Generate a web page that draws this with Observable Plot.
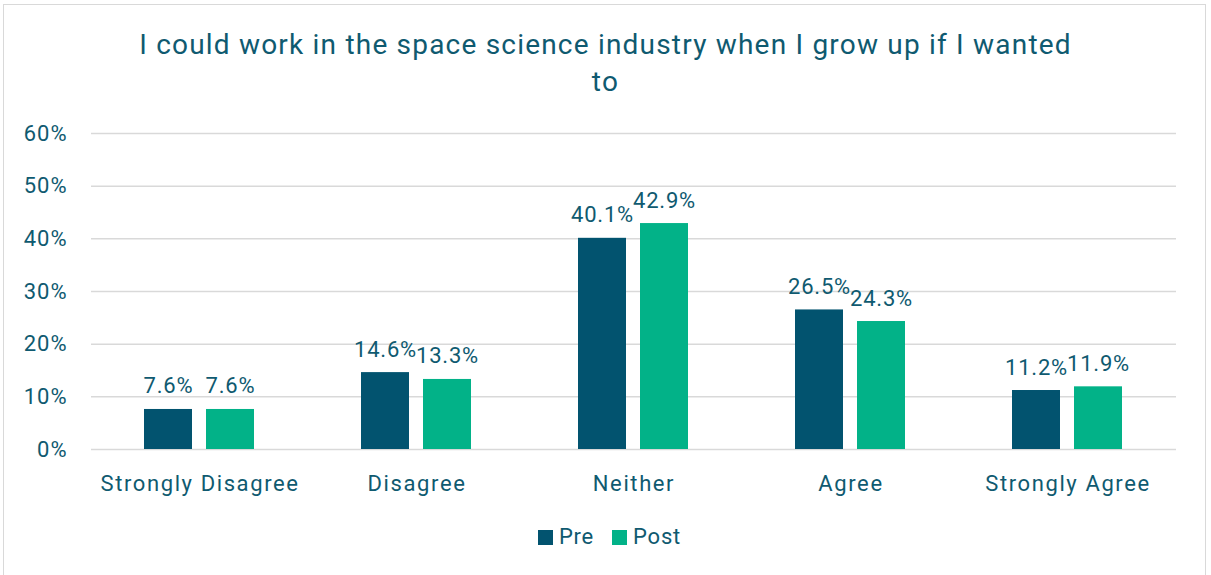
<!DOCTYPE html>
<html>
<head>
<meta charset="utf-8">
<script src="https://cdn.jsdelivr.net/npm/d3@7"></script>
<script src="https://cdn.jsdelivr.net/npm/@observablehq/plot@0.6"></script>
<style>
  html, body { margin: 0; padding: 0; background: #fff; }
  body { position: relative; width: 1211px; height: 575px; overflow: hidden; font-family: Roboto, "Noto Sans", sans-serif; color: #0f5a70; }
  #frame { position: absolute; left: 3px; top: 4px; width: 1201px; height: 600px; border: 1.5px solid #d9d9d9; }
  #title { position: absolute; left: 0; top: 26px; width: 1211px; text-align: center; font-size: 28px; line-height: 37px; letter-spacing: 1.2px; color: #0f5a70; }
  #chart { position: absolute; left: 0; top: 110px; }
  #legend { position: absolute; left: 0; top: 522px; width: 1219px; display: flex; justify-content: center; align-items: center; font-size: 22px; line-height: 30px; letter-spacing: 0.8px; color: #0f5a70; }
  .sw { display: inline-block; width: 15px; height: 15px; margin-right: 6px; }
  .item { display: flex; align-items: center; margin: 0 9px; }
  #chart [aria-label^="fx-axis"] text { letter-spacing: 1.6px; }
  #chart [aria-label^="y-axis"] text { letter-spacing: 1px; }
  #chart [aria-label="text"] text { letter-spacing: 0.8px; }
</style>
</head>
<body>
<div id="frame"></div>
<div id="title">I could work in the space science industry when I grow up if I wanted<br>to</div>
<div id="chart"></div>
<div id="legend"></div>
<script>
const categories = ["Strongly Disagree", "Disagree", "Neither", "Agree", "Strongly Agree"];
const series = ["Pre", "Post"];
const preValues = [7.6, 14.6, 40.1, 26.5, 11.2];
const postValues = [7.6, 13.3, 42.9, 24.3, 11.9];
const yTicks = [0, 10, 20, 30, 40, 50, 60];
const colors = ["#02536f", "#02b288"];
const textColor = "#0f5a70";

const data = [];
categories.forEach((c, i) => {
  data.push({category: c, series: "Pre", value: preValues[i]});
  data.push({category: c, series: "Post", value: postValues[i]});
});

const chart = Plot.plot({
  width: 1211,
  height: 394,
  marginLeft: 89,
  marginRight: 34,
  marginTop: 23,
  marginBottom: 55,
  style: {fontFamily: "Roboto, 'Noto Sans', sans-serif", fontSize: "22px", color: textColor, background: "transparent", overflow: "visible"},
  fx: {domain: categories, padding: 0, label: null, axis: "bottom", tickSize: 0, tickPadding: 26},
  x: {domain: series, paddingInner: 0.222, paddingOuter: 0.838, axis: null},
  y: {domain: [0, 60], ticks: yTicks, tickFormat: d => d + "%", label: null, tickSize: 0, tickPadding: 24},
  color: {domain: series, range: colors},
  marks: [
    Plot.gridY(yTicks, {stroke: "#d9d9d9", strokeOpacity: 1, strokeWidth: 1.5}),
    Plot.barY(data, {fx: "category", x: "series", y: "value", fill: "series"}),
    Plot.text(data, {fx: "category", x: "series", y: "value", text: d => d.value.toFixed(1) + "%", lineAnchor: "bottom", dy: -16, fontSize: 22, fill: textColor})
  ]
});
document.getElementById("chart").appendChild(chart);

const legend = document.getElementById("legend");
series.forEach((s, i) => {
  const item = document.createElement("div");
  item.className = "item";
  const sw = document.createElement("span");
  sw.className = "sw";
  sw.style.background = colors[i];
  const label = document.createElement("span");
  label.textContent = s;
  item.appendChild(sw);
  item.appendChild(label);
  legend.appendChild(item);
});
</script>
</body>
</html>
